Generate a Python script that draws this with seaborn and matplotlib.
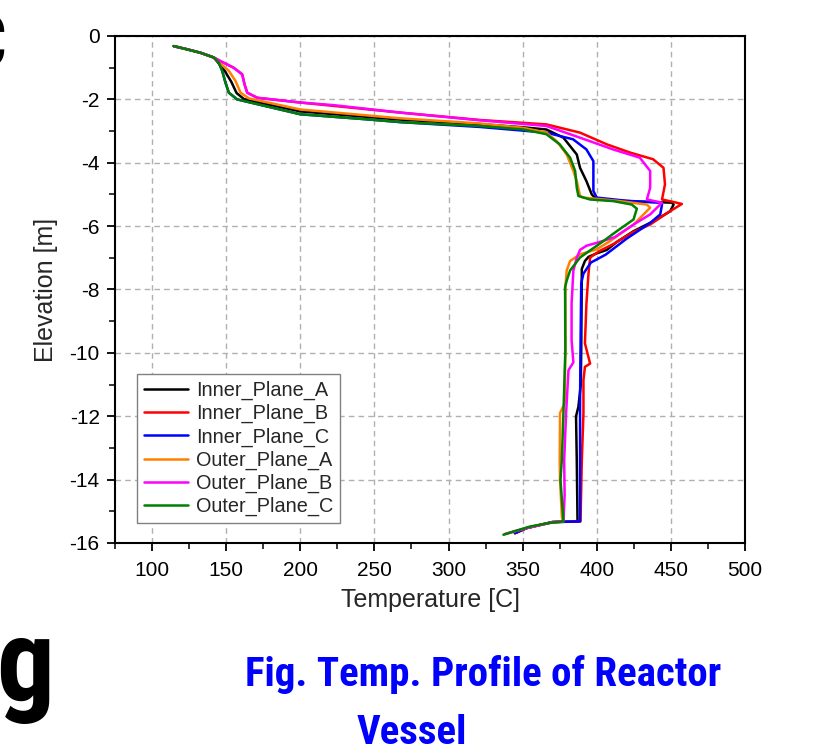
import pandas as pd
import matplotlib
matplotlib.use("Agg")
import matplotlib.pyplot as plt
from matplotlib import font_manager
from matplotlib.ticker import AutoMinorLocator
import seaborn as sns

series_names = ['Inner_Plane_A', 'Inner_Plane_B', 'Inner_Plane_C',
                'Outer_Plane_A', 'Outer_Plane_B', 'Outer_Plane_C']
series_colors = ['#000000', '#ff0000', '#0000ff', '#ff8000', '#ff00ff', '#008000']

inner_a_temp = [114.6, 123.6, 132.7, 141.7, 143.5, 149, 153.5, 157, 162, 200, 268, 321, 350, 366,
                377.5, 386.5, 388.7, 393, 396.6, 400, 425, 450.7, 451.8, 449.5, 440.5, 424.8, 413.5,
                406.8, 400, 394.4, 392, 389.9, 389.5, 389.2, 387.6, 386, 386.5, 387, 370, 352.7, 344.8]
inner_a_elev = [-0.32, -0.42, -0.53, -0.68, -0.78, -1.1, -1.45, -1.8, -1.99, -2.38, -2.64, -2.78, -2.88,
                -2.95, -3.21, -3.74, -4.16, -4.58, -5.0, -5.16, -5.22, -5.26, -5.32, -5.53, -5.79, -6.16,
                -6.5, -6.75, -6.86, -6.97, -7.1, -7.35, -9.9, -11.0, -11.7, -12.0, -13.4, -15.32, -15.34,
                -15.53, -15.69]

inner_b_temp = [114.6, 123.6, 132.7, 141.7, 146, 155, 160.8, 162.4, 164.2, 171, 200, 268, 321, 366,
                388.7, 406.8, 422.5, 438, 445, 446, 444, 450, 457.4, 447, 436, 424, 411, 402, 395.5,
                394.4, 393, 392, 395.5, 392, 391, 391, 389.9, 389, 370, 352.7, 344.8]
inner_b_elev = [-0.32, -0.42, -0.53, -0.68, -0.79, -1.0, -1.21, -1.53, -1.79, -1.95, -2.1, -2.42, -2.65,
                -2.79, -3.05, -3.42, -3.68, -3.89, -4.16, -4.68, -5.16, -5.22, -5.3, -5.6, -5.95, -6.2,
                -6.57, -6.78, -6.99, -7.5, -8.45, -9.7, -10.34, -10.44, -10.86, -11.9, -13.4, -15.32,
                -15.34, -15.53, -15.69]

inner_c_temp = [114.6, 123.6, 132.7, 141.7, 145, 147.3, 149.5, 151.8, 157.4, 166.4, 200, 245, 268, 321,
                366, 384, 393, 397.7, 397.7, 400, 420, 443, 444, 442.8, 436, 420, 406, 396, 391, 389.5,
                389, 388.7, 388.7, 388.7, 370, 352.7, 344.8]
inner_c_elev = [-0.32, -0.42, -0.53, -0.68, -0.84, -1.1, -1.47, -1.79, -2.0, -2.1, -2.47, -2.63, -2.72,
                -2.87, -3.05, -3.26, -3.58, -3.95, -4.89, -5.1, -5.2, -5.26, -5.32, -5.63, -5.9, -6.4,
                -6.9, -7.15, -7.5, -7.8, -9.9, -11.6, -13.4, -15.32, -15.34, -15.53, -15.69]

outer_a_temp = [114.6, 123.6, 132.7, 141.7, 144, 151.8, 156.3, 159.7, 165.3, 200, 268, 321, 350.5, 366,
                373, 379.7, 384.2, 386.5, 388.7, 391, 413.5, 433.8, 436, 424.8, 409, 400, 388.7, 382,
                379.7, 378.8, 378.8, 378.3, 375.2, 375, 375.2, 376.5, 377.5, 369, 355, 344, 338]
outer_a_elev = [-0.32, -0.42, -0.53, -0.68, -0.79, -1.1, -1.42, -1.79, -1.97, -2.32, -2.6, -2.76, -2.9,
                -3.05, -3.32, -3.74, -4.26, -4.58, -5.05, -5.1, -5.2, -5.32, -5.42, -5.95, -6.47, -6.73,
                -6.89, -7.1, -7.4, -7.93, -9.9, -11.6, -11.9, -13.4, -14.0, -15.2, -15.32, -15.36,
                -15.5, -15.64, -15.72]

outer_b_temp = [114.6, 123.6, 132.7, 141.7, 146, 155, 160.8, 162.4, 164.2, 171, 200, 222, 268, 321,
                366, 388.7, 411, 429, 436, 436, 433.8, 444, 436, 424.8, 412, 402, 393, 388.7, 386.5,
                384.2, 383, 383, 384.2, 380.9, 379.3, 378, 378.3, 377.5, 369, 355, 344, 338]
outer_b_elev = [-0.32, -0.42, -0.53, -0.68, -0.79, -1.0, -1.21, -1.53, -1.79, -1.95, -2.1, -2.18, -2.42,
                -2.66, -2.84, -3.21, -3.58, -3.84, -4.26, -4.79, -5.16, -5.26, -5.63, -5.95, -6.35,
                -6.5, -6.62, -6.75, -7.0, -7.4, -8.45, -9.6, -10.3, -10.55, -11.9, -13.4, -14.5, -15.3,
                -15.36, -15.5, -15.64, -15.72]

outer_c_temp = [114.6, 123.6, 132.7, 141.7, 145, 147.3, 149.5, 151.8, 157.4, 166.4, 200, 245, 268, 321,
                350.5, 366, 375, 382, 385.4, 386.5, 387.6, 395.5, 411, 423.6, 427, 424.8, 413.5, 404.5,
                388.7, 382, 379.7, 378.6, 378.8, 377.5, 376.4, 375.5, 377.5, 369, 355, 343.7, 337]
outer_c_elev = [-0.32, -0.42, -0.53, -0.68, -0.84, -1.1, -1.47, -1.79, -2.0, -2.1, -2.47, -2.63, -2.72,
                -2.84, -2.95, -3.1, -3.42, -3.84, -4.26, -4.79, -5.05, -5.16, -5.21, -5.32, -5.45, -5.79,
                -6.16, -6.47, -6.99, -7.4, -7.72, -7.93, -9.9, -11.9, -13.4, -14.0, -15.32, -15.36,
                -15.48, -15.64, -15.74]

x_ticks = [100, 150, 200, 250, 300, 350, 400, 450, 500]
y_ticks = [-16, -14, -12, -10, -8, -6, -4, -2, 0]

temps = [inner_a_temp, inner_b_temp, inner_c_temp, outer_a_temp, outer_b_temp, outer_c_temp]
elevs = [inner_a_elev, inner_b_elev, inner_c_elev, outer_a_elev, outer_b_elev, outer_c_elev]

sns.set_theme(style="ticks")
plt.rcParams['font.family'] = ['Liberation Sans', 'DejaVu Sans']
plt.rcParams['axes.unicode_minus'] = False

# pick a condensed bold face for the slide caption if one is installed
installed = {f.name for f in font_manager.fontManager.ttflist}
narrow = None
for cand in ['Liberation Sans Narrow', 'Roboto Condensed', 'Noto Sans Condensed',
             'Open Sans Condensed', 'DejaVu Sans Condensed']:
    if cand in installed:
        narrow = cand
        break
cap_font = [narrow, 'Liberation Sans'] if narrow else ['Liberation Sans']

# long-form table for seaborn
frames = []
for name, t, e in zip(series_names, temps, elevs):
    frames.append(pd.DataFrame({'Temperature': t, 'Elevation': e, 'Series': name}))
df = pd.concat(frames, ignore_index=True)

fig = plt.figure(figsize=(8.18, 7.53), dpi=100)
ax = fig.add_axes([0.1406, 0.2789, 0.7702, 0.6733])

sns.lineplot(data=df, x='Temperature', y='Elevation', hue='Series',
             palette=dict(zip(series_names, series_colors)), hue_order=series_names,
             sort=False, estimator=None, linewidth=1.8, ax=ax)

ax.set_xlim(75, 500)
ax.set_ylim(-16, 0)
ax.set_xticks(x_ticks)
ax.set_yticks(y_ticks)
ax.xaxis.set_minor_locator(AutoMinorLocator(2))
ax.yaxis.set_minor_locator(AutoMinorLocator(2))
ax.tick_params(which='major', direction='out', length=6, width=1.3, labelsize=15, colors='black')
ax.tick_params(axis='x', which='major', pad=7)
ax.tick_params(axis='y', which='major', pad=5)
ax.tick_params(which='minor', direction='out', length=4, width=1.3)
ax.grid(True, which='major', linestyle=(0, (4, 3)), color='#b0b0b0', linewidth=1)
for sp in ax.spines.values():
    sp.set_visible(True)
    sp.set_linewidth(1.5)
    sp.set_color('black')

ax.set_xlabel('Temperature [C]', fontsize=18, labelpad=6)
ax.set_ylabel('Elevation [m]', fontsize=18, labelpad=8)

handles, labels = ax.get_legend_handles_labels()
leg = ax.legend(handles, labels, loc='lower left', bbox_to_anchor=(0.035, 0.039),
                borderaxespad=0, fontsize=14.3, frameon=True, fancybox=False,
                edgecolor='#808080', framealpha=1, handlelength=2.2, handletextpad=0.4,
                labelspacing=0.2, borderpad=0.35)
leg.get_frame().set_linewidth(1.0)

# slide text around the chart (cropped at the figure edge, as in the source slide)
fig.text(6 / 818, 1 - 67 / 753, 'C', fontsize=54, fontweight='bold', family=cap_font,
         ha='right', va='baseline', color='black')
fig.text(54 / 818, 1 - 700 / 753, 'g', fontsize=83, fontweight='bold', family=cap_font,
         ha='right', va='baseline', color='black')
fig.text(483 / 818, 1 - 686 / 753, 'Fig. Temp. Profile of Reactor', fontsize=29.5 if narrow else 24,
         fontweight='bold', family=cap_font, ha='center', va='baseline', color='#0000ff')
fig.text(412 / 818, 1 - 744 / 753, 'Vessel', fontsize=29.5 if narrow else 24,
         fontweight='bold', family=cap_font, ha='center', va='baseline', color='#0000ff')

fig.savefig('out.png', dpi=100)
plt.close(fig)
